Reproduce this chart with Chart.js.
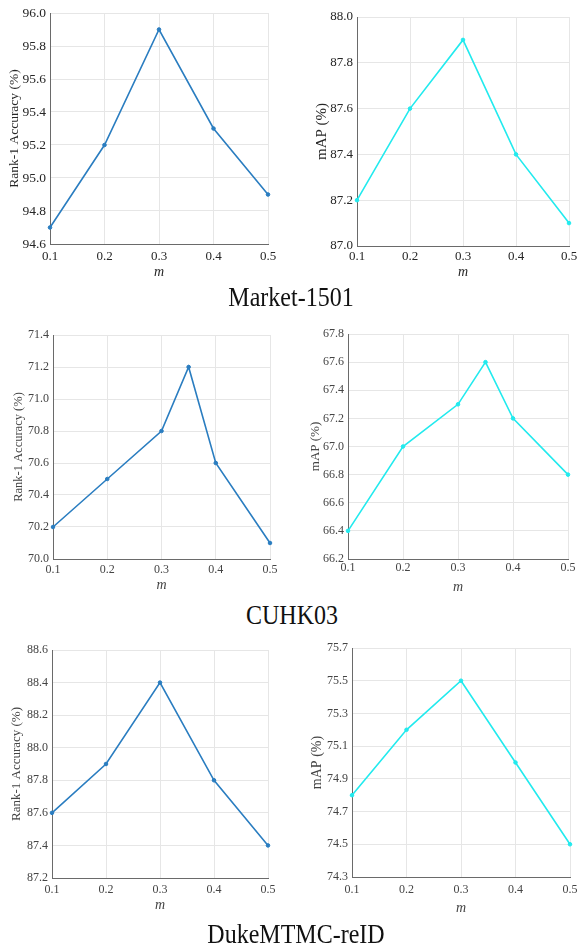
<!DOCTYPE html>
<html>
<head>
<meta charset="utf-8">
<script src="https://cdn.jsdelivr.net/npm/chart.js@4.4.1/dist/chart.umd.min.js"></script>
<style>
  html, body { margin: 0; padding: 0; background: #fff; }
  body { width: 577px; height: 948px; position: relative; overflow: hidden; }
  canvas { position: absolute; }
  .caption {
    position: absolute;
    font-family: "Liberation Serif", "Times New Roman", serif;
    font-size: 24px;
    line-height: 1;
    color: #111;
    white-space: nowrap;
    transform: translate(-50%, -50%) scaleY(1.15);
  }
</style>
</head>
<body>
<canvas id="c1"></canvas>
<canvas id="c2"></canvas>
<canvas id="c3"></canvas>
<canvas id="c4"></canvas>
<canvas id="c5"></canvas>
<canvas id="c6"></canvas>
<div class="caption" style="left:291px; top:297px;">Market-1501</div>
<div class="caption" style="left:292px; top:615px;">CUHK03</div>
<div class="caption" style="left:296px; top:934px;">DukeMTMC-reID</div>
<script>
// values of m
const mValues = [0.1, 0.2, 0.3, 0.4, 0.5];
const mValuesCuhk = [0.1, 0.2, 0.3, 0.35, 0.4, 0.5];

// Market-1501
const marketRank1 = [94.7, 95.2, 95.9, 95.3, 94.9];
const marketMap = [87.2, 87.6, 87.9, 87.4, 87.1];
// CUHK03
const cuhkRank1 = [70.2, 70.5, 70.8, 71.2, 70.6, 70.1];
const cuhkMap = [66.4, 67.0, 67.3, 67.6, 67.2, 66.8];
// DukeMTMC-reID
const dukeRank1 = [87.6, 87.9, 88.4, 87.8, 87.4];
const dukeMap = [74.8, 75.2, 75.5, 75.0, 74.5];

// tick labels
const xTicks = [0.1, 0.2, 0.3, 0.4, 0.5];
const marketRank1Ticks = [94.6, 94.8, 95.0, 95.2, 95.4, 95.6, 95.8, 96.0];
const marketMapTicks = [87.0, 87.2, 87.4, 87.6, 87.8, 88.0];
const cuhkRank1Ticks = [70.0, 70.2, 70.4, 70.6, 70.8, 71.0, 71.2, 71.4];
const cuhkMapTicks = [66.2, 66.4, 66.6, 66.8, 67.0, 67.2, 67.4, 67.6, 67.8];
const dukeRank1Ticks = [87.2, 87.4, 87.6, 87.8, 88.0, 88.2, 88.4, 88.6];
const dukeMapTicks = [74.3, 74.5, 74.7, 74.9, 75.1, 75.3, 75.5, 75.7];

const blue = "#2a7dc0";
const cyan = "#22eaee";
const serif = '"Liberation Serif", "Times New Roman", serif';

function makeChart(id, xs, ys, yTicks, color, yTitle, lay) {
    const canvas = document.getElementById(id);
    canvas.width = lay.box.w;
    canvas.height = lay.box.h;
    canvas.style.left = lay.box.x + "px";
    canvas.style.top = lay.box.y + "px";
    canvas.style.width = lay.box.w + "px";
    canvas.style.height = lay.box.h + "px";

    const boxBottom = lay.box.y + lay.box.h;
    const tickLh = lay.xTickSize * 1.2;
    const mLh = 14 * 1.2;
    const yTitleLh = lay.titleSize * 1.2;

    return new Chart(canvas.getContext("2d"), {
        type: "line",
        data: {
            datasets: [{
                data: xs.map((x, i) => ({ x: x, y: ys[i] })),
                borderColor: color,
                backgroundColor: color,
                borderWidth: 1.6,
                pointRadius: 1.8,
                pointBorderWidth: 1,
                tension: 0,
                clip: false,
            }],
        },
        options: {
            responsive: false,
            animation: false,
            events: [],
            layout: {
                padding: {
                    top: lay.plot.t - lay.box.y,
                    right: lay.box.x + lay.box.w - lay.plot.r,
                    left: 0,
                    bottom: 0,
                },
            },
            plugins: { legend: { display: false }, tooltip: { enabled: false } },
            scales: {
                x: {
                    type: "linear",
                    min: 0.1,
                    max: 0.5,
                    afterBuildTicks: (s) => { s.ticks = xTicks.map((v) => ({ value: v })); },
                    afterFit: (s) => { s.height = boxBottom - lay.plot.b; },
                    grid: { color: "#e6e6e6", drawTicks: false },
                    border: { color: "#6a6a6a", width: 1 },
                    ticks: {
                        padding: lay.xLabelY - lay.plot.b - tickLh / 2,
                        color: lay.tickColor,
                        font: { family: serif, size: lay.xTickSize },
                        maxRotation: 0,
                        callback: (v) => v.toFixed(1),
                    },
                    title: {
                        display: true,
                        text: "m",
                        color: lay.tickColor,
                        font: { family: serif, size: 14, style: "italic" },
                        padding: { top: 0, bottom: boxBottom - lay.mY - mLh / 2 },
                    },
                },
                y: {
                    min: yTicks[0],
                    max: yTicks[yTicks.length - 1],
                    afterBuildTicks: (s) => { s.ticks = yTicks.map((v) => ({ value: v })); },
                    afterFit: (s) => { s.width = lay.plot.l - lay.box.x; },
                    grid: { color: "#e6e6e6", drawTicks: false },
                    border: { color: "#6a6a6a", width: 1 },
                    ticks: {
                        padding: 4,
                        color: lay.tickColor,
                        font: { family: serif, size: lay.tickSize },
                        callback: (v) => v.toFixed(1),
                    },
                    title: {
                        display: true,
                        text: yTitle,
                        color: lay.tickColor,
                        font: { family: serif, size: lay.titleSize },
                        padding: { top: lay.yTitleX - lay.box.x - yTitleLh / 2, bottom: 0 },
                    },
                },
            },
        },
    });
}

makeChart("c1", mValues, marketRank1, marketRank1Ticks, blue, "Rank-1 Accuracy (%)", {
    box: { x: 0, y: 0, w: 290, h: 284 },
    plot: { l: 50, t: 13, r: 268, b: 244 },
    xLabelY: 257, mY: 272, yTitleX: 14,
    tickSize: 13.5, xTickSize: 13, titleSize: 13.5, tickColor: "#262626",
});
makeChart("c2", mValues, marketMap, marketMapTicks, cyan, "mAP (%)", {
    box: { x: 290, y: 0, w: 300, h: 284 },
    plot: { l: 357, t: 17, r: 569, b: 246 },
    xLabelY: 257, mY: 272, yTitleX: 322,
    tickSize: 13, xTickSize: 13, titleSize: 15, tickColor: "#262626",
});
makeChart("c3", mValuesCuhk, cuhkRank1, cuhkRank1Ticks, blue, "Rank-1 Accuracy (%)", {
    box: { x: 0, y: 318, w: 290, h: 279 },
    plot: { l: 53, t: 335, r: 270, b: 559 },
    xLabelY: 570, mY: 585, yTitleX: 19,
    tickSize: 12, xTickSize: 12, titleSize: 12.5, tickColor: "#444",
});
makeChart("c4", mValuesCuhk, cuhkMap, cuhkMapTicks, cyan, "mAP (%)", {
    box: { x: 290, y: 318, w: 300, h: 281 },
    plot: { l: 348, t: 334, r: 568, b: 559 },
    xLabelY: 568, mY: 587, yTitleX: 316,
    tickSize: 12, xTickSize: 12, titleSize: 13, tickColor: "#444",
});
makeChart("c5", mValues, dukeRank1, dukeRank1Ticks, blue, "Rank-1 Accuracy (%)", {
    box: { x: 0, y: 632, w: 290, h: 285 },
    plot: { l: 52, t: 650, r: 268, b: 878 },
    xLabelY: 890, mY: 905, yTitleX: 17,
    tickSize: 12, xTickSize: 12, titleSize: 13, tickColor: "#444",
});
makeChart("c6", mValues, dukeMap, dukeMapTicks, cyan, "mAP (%)", {
    box: { x: 290, y: 632, w: 300, h: 288 },
    plot: { l: 352, t: 648, r: 570, b: 877 },
    xLabelY: 890, mY: 908, yTitleX: 317,
    tickSize: 12, xTickSize: 12, titleSize: 14, tickColor: "#444",
});
</script>
</body>
</html>
